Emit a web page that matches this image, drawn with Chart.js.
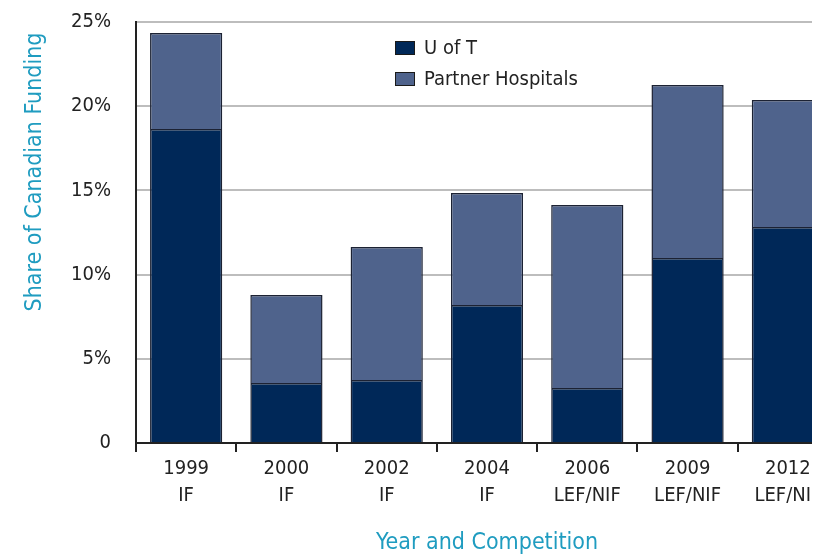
<!DOCTYPE html>
<html>
<head>
<meta charset="utf-8">
<script src="https://cdn.jsdelivr.net/npm/chart.js@4"></script>
<style>
    html, body { margin: 0; padding: 0; background: #fff; }
    #clip { width: 812px; height: 558px; overflow: hidden; }
    #wrap { width: 860px; height: 558px; position: relative; }
</style>
</head>
<body>
<div id="clip"><div id="wrap"><canvas id="barChart"></canvas></div></div>
<script>
// Chart data
const years = ['1999', '2000', '2002', '2004', '2006', '2009', '2012'];
const competitions = ['IF', 'IF', 'IF', 'IF', 'LEF/NIF', 'LEF/NIF', 'LEF/NIF'];
const uoftShare = [18.65, 3.56, 3.74, 8.19, 3.27, 10.99, 12.83];
const hospitalShare = [5.70, 5.23, 7.90, 6.66, 10.86, 10.27, 7.54];
const yTicks = [0, 5, 10, 15, 20, 25];

const FONT = "'Liberation Sans Narrow', 'DejaVu Sans Condensed', sans-serif";
const TEAL = '#1f9cc0';
const Y_TITLE = 'Share of Canadian Funding';

// Legend drawn inside the plot, stacked vertically
const insideLegend = {
    id: 'insideLegend',
    afterDraw(chart) {
        const ctx = chart.ctx;
        const items = chart.data.datasets;
        ctx.save();
        ctx.font = '20px ' + FONT;
        ctx.textBaseline = 'middle';
        items.forEach((ds, i) => {
            const y = 48 + i * 31;
            ctx.fillStyle = ds.backgroundColor;
            ctx.fillRect(395, y - 7, 20, 14);
            ctx.strokeStyle = '#1a1a1a';
            ctx.lineWidth = 1;
            ctx.strokeRect(395.5, y - 6.5, 19, 13);
            ctx.fillStyle = '#222';
            ctx.fillText(ds.label, 424, y + 1);
        });
        ctx.restore();
    }
};

// Y title sits above the middle of the axis in the original, so draw it by hand
const yTitle = {
    id: 'yTitle',
    afterDraw(chart) {
        const ctx = chart.ctx;
        ctx.save();
        ctx.translate(35, 172);
        ctx.rotate(-Math.PI / 2);
        ctx.font = '23px ' + FONT;
        ctx.fillStyle = TEAL;
        ctx.textAlign = 'center';
        ctx.textBaseline = 'middle';
        ctx.fillText(Y_TITLE, 0, 0);
        ctx.restore();
    }
};

const config = {
    type: 'bar',
    data: {
        labels: years.map((y, i) => [y, competitions[i]]),
        datasets: [{
            label: 'U of T',
            data: uoftShare,
            backgroundColor: '#002858',
            borderColor: '#1c2233',
            borderWidth: 1.5,
            barPercentage: 0.72,
            categoryPercentage: 1
        }, {
            label: 'Partner Hospitals',
            data: hospitalShare,
            backgroundColor: '#4f638c',
            borderColor: '#1c2233',
            borderWidth: 1.5,
            barPercentage: 0.72,
            categoryPercentage: 1
        }]
    },
    options: {
        responsive: true,
        maintainAspectRatio: false,
        animation: false,
        layout: {
            padding: { top: 22, right: 22, left: 0, bottom: 0 }
        },
        plugins: {
            legend: { display: false },
            tooltip: { enabled: false }
        },
        scales: {
            x: {
                stacked: true,
                afterFit(scale) {
                    scale.height = 115;
                    scale.paddingTop = 0;
                    scale.paddingBottom = 0;
                },
                grid: {
                    offset: true,
                    drawOnChartArea: false,
                    drawTicks: true,
                    tickLength: 9,
                    color: '#222',
                    lineWidth: 2
                },
                border: { color: '#222', width: 2 },
                ticks: {
                    color: '#222',
                    padding: 3,
                    maxRotation: 0,
                    font: { family: FONT, size: 20, lineHeight: 1.35 }
                },
                title: {
                    display: true,
                    text: 'Year and Competition',
                    color: TEAL,
                    padding: { top: 0, bottom: 1 },
                    font: { family: FONT, size: 23 }
                }
            },
            y: {
                stacked: true,
                min: 0,
                max: 25,
                afterFit(scale) {
                    scale.width = 136;
                    scale.paddingTop = 0;
                    scale.paddingBottom = 0;
                },
                afterBuildTicks(scale) {
                    scale.ticks = yTicks.map(v => ({ value: v }));
                },
                grid: {
                    drawTicks: false,
                    color: '#bdbdbd',
                    lineWidth: 2
                },
                border: { color: '#222', width: 2 },
                ticks: {
                    color: '#222',
                    padding: 25,
                    font: { family: FONT, size: 20 },
                    callback: v => v === 0 ? '0' : v + '%'
                },
                title: { display: false }
            }
        }
    },
    plugins: [insideLegend, yTitle]
};

const ctx = document.getElementById('barChart').getContext('2d');
const barChart = new Chart(ctx, config);
</script>
</body>
</html>
